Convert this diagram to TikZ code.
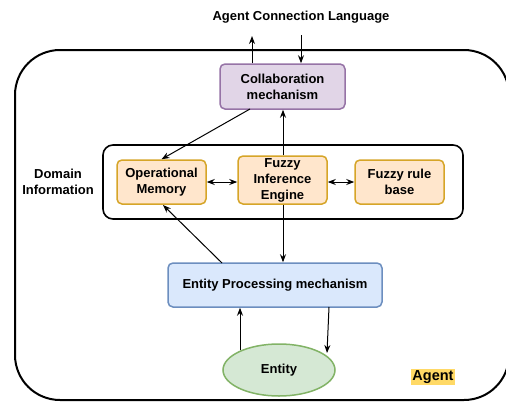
\documentclass[tikz,border=0pt]{standalone}
\usepackage{fontspec}
\setmainfont{Liberation Sans}
\usetikzlibrary{arrows.meta,shapes.geometric}
\definecolor{purpfill}{HTML}{E1D5E7}
\definecolor{purpline}{HTML}{9673A6}
\definecolor{orfill}{HTML}{FFE6CC}
\definecolor{orline}{HTML}{D6A528}
\definecolor{bluefill}{HTML}{DAE8FC}
\definecolor{blueline}{HTML}{6C8EBF}
\definecolor{grnfill}{HTML}{D5E8D4}
\definecolor{grnline}{HTML}{82B366}
\definecolor{hilite}{HTML}{FFD966}
\tikzset{
  lbl/.style={font=\bfseries\fontsize{13}{16}\selectfont, align=center, inner sep=0pt},
  box/.style={lbl, draw, rounded corners=5pt, line width=1.5pt, minimum width=#1},
  purplebox/.style={box=125pt, fill=purpfill, draw=purpline, minimum height=45pt},
  orangebox/.style={box=89pt, fill=orfill, draw=orline, minimum height=44pt},
  bluebox/.style={box=214pt, fill=bluefill, draw=blueline, minimum height=44pt},
  conn/.style={-{Stealth[length=8pt,width=6pt]}, line width=1pt},
  biconn/.style={{Stealth[length=8pt,width=6pt]}-{Stealth[length=8pt,width=6pt]}, line width=1pt}
}
\begin{document}
\begin{tikzpicture}[x=1pt,y=-1pt]
\useasboundingbox (0,0) rectangle (506,402);
\fill[white] (0,0) rectangle (506,402);

% agent boundary
\draw[line width=2pt, rounded corners=45pt] (15,50) rectangle (509,400);

% domain information container
\draw[line width=1.6pt, rounded corners=10pt] (103,145) rectangle (463,219);

\node[lbl] (acl) at (301,17) {Agent Connection Language};
\coordinate (outUp) at (252,36);
\coordinate (inDown) at (301,35);

\node[purplebox] (collab) at (282.5,86.5) {Collaboration\\mechanism};
\node[orangebox] (opmem) at (161.5,182) {Operational\\Memory};
\node[orangebox, minimum height=48pt] (fie) at (282.5,180) {Fuzzy\\Inference\\Engine};
\node[orangebox] (frb) at (399.5,182) {Fuzzy rule\\base};
\node[lbl] (dom) at (58,182) {Domain\\Information};
\node[bluebox] (epm) at (275,285) {Entity Processing mechanism};
\node[lbl, ellipse, draw=grnline, fill=grnfill, line width=1.5pt,
      minimum width=112pt, minimum height=52pt] (entity) at (279,370) {Entity};
\node[lbl, font=\bfseries\fontsize{14.5}{17}\selectfont, fill=hilite,
      inner xsep=1pt, inner ysep=1.5pt] (agent) at (433,377) {Agent};

% connectors
\draw[conn] (collab.north -| outUp) -- (outUp);
\draw[conn] (inDown) -- (collab.north -| inDown);
\draw[conn] (250,109) -- (opmem.north);
\draw[conn] (fie.north -| 283,0) -- (collab.south -| 283,0);
\draw[conn] (fie.south -| 283,0) -- (epm.north -| 283,0);
\draw[biconn] (opmem.east) -- (fie.west |- opmem.east);
\draw[biconn] (fie.east |- frb.west) -- (frb.west);
\draw[conn] (222,263) -- (163,205);
\coordinate (entUp) at (240,350);
\draw[conn] (entUp) -- (epm.south -| entUp);
\coordinate (entIn) at (327,353);
\draw[conn] (329,307) -- (entIn);
\end{tikzpicture}
\end{document}
